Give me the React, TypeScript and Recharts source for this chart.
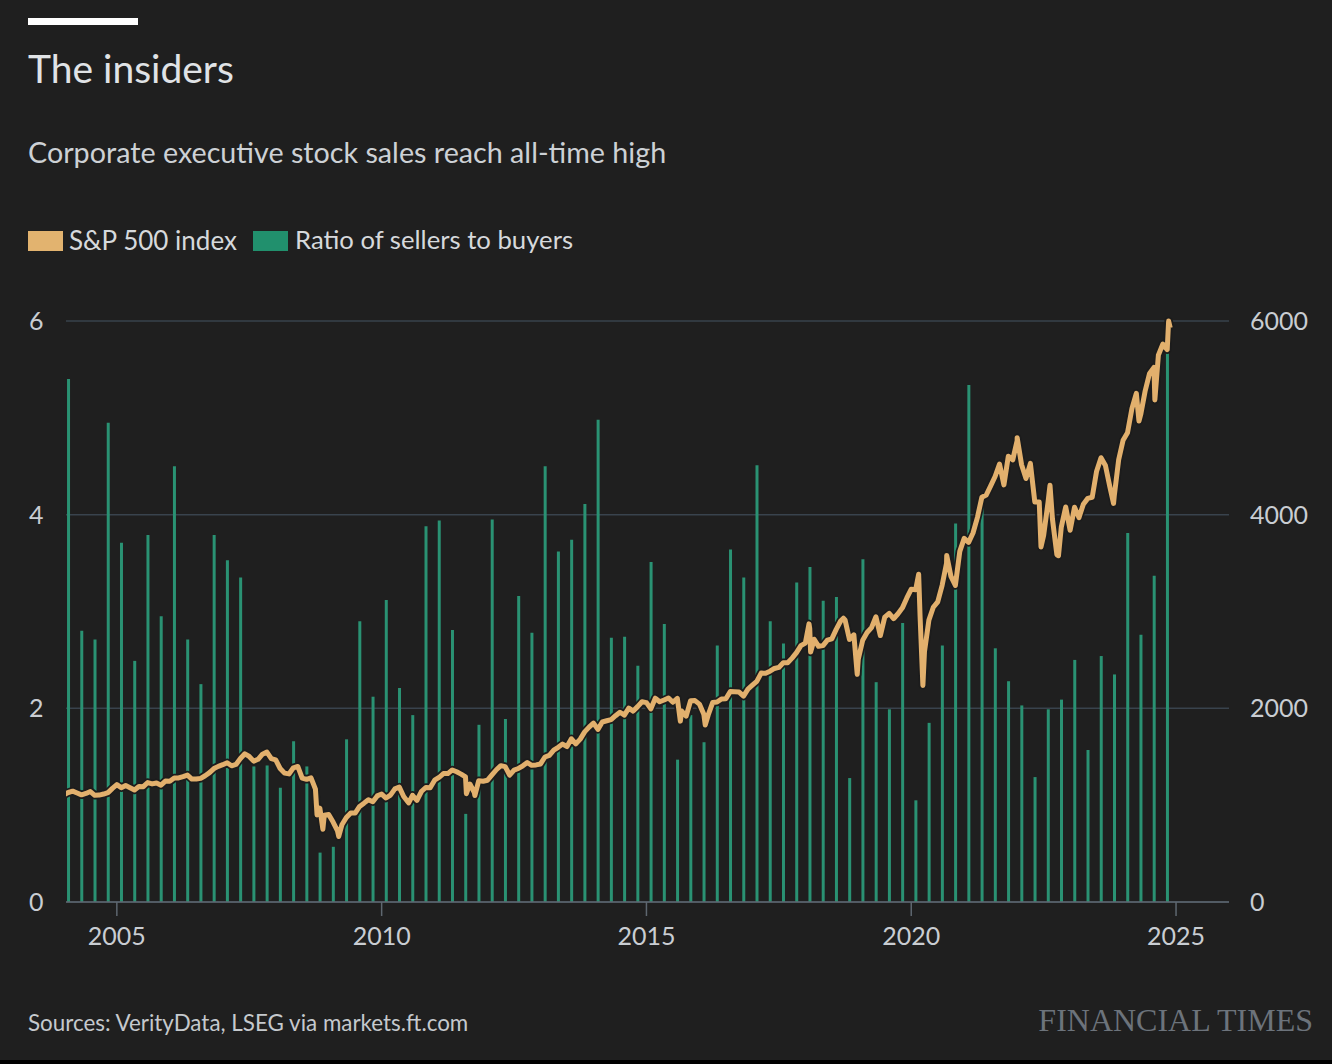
import React from "react"
import { ComposedChart, Bar, Line, XAxis, YAxis, CartesianGrid } from "recharts"

const yearTicks = [2005, 2010, 2015, 2020, 2025]
const ratioTicks = [0, 2, 4, 6]
const indexTicks = [0, 2000, 4000, 6000]

// Ratio of sellers to buyers, one bar per quarter, 2004 Q1 .. 2024 Q4
const sellerBuyerRatio = [
  5.4, 2.8, 2.71, 4.95, 3.71, 2.49, 3.79, 2.95, 4.5, 2.71, 2.25, 3.79,
  3.53, 3.35, 1.4, 1.41, 1.18, 1.66, 1.4, 0.51, 0.57, 1.68, 2.9, 2.12,
  3.12, 2.21, 1.93, 3.88, 3.94, 2.81, 0.91, 1.83, 3.95, 1.89, 3.16, 2.78,
  4.5, 3.62, 3.74, 4.11, 4.98, 2.73, 2.74, 2.44, 3.51, 2.87, 1.47, 1.93,
  1.65, 2.65, 3.64, 3.35, 4.51, 2.9, 2.67, 3.3, 3.46, 3.11, 3.15, 1.28,
  3.54, 2.27, 1.99, 2.88, 1.05, 1.85, 2.65, 3.91, 5.34, 4.1, 2.62, 2.28,
  2.03, 1.29, 1.99, 2.09, 2.5, 1.57, 2.54, 2.35, 3.81, 2.76, 3.37, 5.69,
]

// S&P 500 month-end closes, Jan 2004 .. Oct 2024
const spxMonthEnd = [
  1131, 1145, 1126, 1107, 1121, 1141, 1102, 1104, 1115, 1130, 1174, 1212,
  1181, 1204, 1181, 1157, 1192, 1191, 1234, 1220, 1229, 1207, 1249, 1248,
  1280, 1281, 1295, 1311, 1270, 1270, 1277, 1304, 1336, 1378, 1401, 1418,
  1438, 1407, 1421, 1482, 1531, 1503, 1455, 1474, 1527, 1549, 1481, 1468,
  1379, 1331, 1323, 1386, 1400, 1280, 1267, 1283, 1165, 969, 896, 903,
  826, 735, 798, 873, 919, 919, 987, 1021, 1057, 1036, 1096, 1115,
  1074, 1104, 1169, 1187, 1089, 1031, 1102, 1049, 1141, 1183, 1181, 1258,
  1286, 1327, 1326, 1364, 1345, 1321, 1292, 1219, 1131, 1253, 1247, 1258,
  1312, 1366, 1408, 1398, 1310, 1362, 1379, 1407, 1441, 1412, 1416, 1426,
  1498, 1515, 1569, 1598, 1631, 1606, 1686, 1633, 1682, 1757, 1806, 1848,
  1783, 1859, 1872, 1884, 1924, 1960, 1931, 2003, 1972, 2018, 2068, 2059,
  1995, 2105, 2068, 2086, 2107, 2063, 2104, 1972, 1920, 2079, 2080, 2044,
  1940, 1932, 2060, 2065, 2097, 2099, 2174, 2171, 2168, 2126, 2199, 2239,
  2279, 2364, 2363, 2384, 2412, 2423, 2470, 2472, 2519, 2575, 2648, 2674,
  2824, 2714, 2641, 2648, 2705, 2718, 2816, 2902, 2914, 2712, 2760, 2507,
  2704, 2784, 2834, 2946, 2752, 2942, 2980, 2926, 2977, 3038, 3141, 3231,
  3226, 2954, 2585, 2912, 3044, 3100, 3271, 3500, 3363, 3270, 3622, 3756,
  3714, 3811, 3973, 4181, 4204, 4298, 4395, 4523, 4308, 4605, 4567, 4766,
  4516, 4374, 4530, 4132, 4132, 3785, 4130, 3955, 3586, 3872, 4080, 3840,
  4077, 3970, 4109, 4169, 4180, 4450, 4589, 4508, 4288, 4194, 4568, 4770,
  4846, 5096, 5254, 5036, 5278, 5460, 5522, 5648, 5762, 5705,
]

// intra-month highs and lows that show in the line
const spxSwings = [
  [2004.0, 1108], [2008.78, 899], [2008.89, 752], [2009.19, 677],
  [2010.51, 1023], [2011.6, 1119], [2011.76, 1099], [2015.64, 1868],
  [2016.11, 1829], [2018.07, 2873], [2018.1, 2581], [2018.72, 2931],
  [2018.98, 2351], [2020.14, 3386], [2020.22, 2237], [2020.67, 3580],
  [2022.0, 4796], [2022.45, 3667], [2022.62, 4305], [2022.78, 3577],
  [2023.82, 4117], [2024.3, 4967], [2024.6, 5186], [2024.86, 6001],
  [2024.89, 5930],
]

const ratioData = sellerBuyerRatio.map((ratio, i) => ({ t: 2004 + i / 4 + 0.09, ratio }))
const spxData = [
  ...spxMonthEnd.map((spx, i) => ({ t: 2004 + (i + 1) / 12, spx })),
  ...spxSwings.map(([t, spx]) => ({ t, spx })),
].sort((a, b) => a.t - b.t)

const font = "Lato, 'Open Sans', sans-serif"
const labelColor = "#c9cdd2"
const domainX = [2004.04, 2026]

const LeftTick = ({ y, payload }: any) => (
  <text x={29} y={y} dy={9} fill={labelColor} fontSize={25} fontFamily={font}>
    {payload.value}
  </text>
)

const RightTick = ({ y, payload }: any) => (
  <text x={1250} y={y} dy={9} fill={labelColor} fontSize={25} fontFamily={font}>
    {payload.value}
  </text>
)

const YearTick = ({ x, y, payload }: any) => (
  <text x={x} y={y + 27} textAnchor="middle" fill={labelColor} fontSize={25} fontFamily={font}>
    {payload.value}
  </text>
)

export default function App() {
  return (
    <div
      style={{
        position: "absolute",
        left: 0,
        top: 0,
        width: 1332,
        height: 1064,
        background: "#1f1f1f",
        overflow: "hidden",
        fontFamily: font,
      }}
    >
      <div style={{ position: "absolute", left: 28, top: 18, width: 110, height: 7, background: "#ffffff" }} />
      <div style={{ position: "absolute", left: 28, top: 49, fontSize: 39, lineHeight: 1, color: "#e0e3e6" }}>
        The insiders
      </div>
      <div style={{ position: "absolute", left: 28, top: 138, fontSize: 28.7, lineHeight: 1, color: "#cdd1d5" }}>
        Corporate executive stock sales reach all-time high
      </div>

      <div style={{ position: "absolute", left: 28, top: 231, width: 35, height: 20, background: "#e2b36f" }} />
      <div style={{ position: "absolute", left: 69, top: 227, fontSize: 26, lineHeight: 1, color: "#d6d9dc" }}>
        S&amp;P 500 index
      </div>
      <div style={{ position: "absolute", left: 253, top: 231, width: 35, height: 20, background: "#21906d" }} />
      <div style={{ position: "absolute", left: 295, top: 227, fontSize: 25.7, lineHeight: 1, color: "#d6d9dc" }}>
        Ratio of sellers to buyers
      </div>

      <div style={{ position: "absolute", left: 0, top: 0 }}>
        <ComposedChart width={1332} height={980} data={ratioData} margin={{ top: 321, right: 0, bottom: 0, left: 0 }}>
          <XAxis
            xAxisId="bars"
            dataKey="t"
            type="number"
            domain={domainX}
            allowDataOverflow
            orientation="top"
            height={0}
            hide
          />
          <XAxis
            xAxisId="time"
            dataKey="t"
            type="number"
            domain={domainX}
            allowDataOverflow
            ticks={yearTicks}
            height={78}
            tickSize={14}
            axisLine={{ stroke: "#5e6770", strokeWidth: 1.5 }}
            tickLine={{ stroke: "#5e6770", strokeWidth: 1.5 }}
            tick={<YearTick />}
          />
          <YAxis
            yAxisId="ratio"
            domain={[0, 6]}
            ticks={ratioTicks}
            width={66}
            axisLine={false}
            tickLine={false}
            tick={<LeftTick />}
          />
          <YAxis
            yAxisId="spx"
            orientation="right"
            domain={[0, 6000]}
            ticks={indexTicks}
            width={103}
            axisLine={false}
            tickLine={false}
            tick={<RightTick />}
          />
          <CartesianGrid xAxisId="time" yAxisId="ratio" vertical={false} stroke="#39434d" strokeWidth={1.5} />
          <Bar
            xAxisId="bars"
            yAxisId="ratio"
            dataKey="ratio"
            barSize={3}
            fill="#2a9273"
            isAnimationActive={false}
          />
          <Line
            xAxisId="time"
            yAxisId="spx"
            data={spxData}
            dataKey="spx"
            stroke="#1c1c1c"
            strokeWidth={8.5}
            strokeLinejoin="round"
            dot={false}
            activeDot={false}
            isAnimationActive={false}
          />
          <Line
            xAxisId="time"
            yAxisId="spx"
            data={spxData}
            dataKey="spx"
            stroke="#e2b06d"
            strokeWidth={5}
            strokeLinejoin="round"
            dot={false}
            activeDot={false}
            isAnimationActive={false}
          />
        </ComposedChart>
      </div>

      <div style={{ position: "absolute", left: 28, top: 1012, fontSize: 22.4, lineHeight: 1, color: "#c5c9cd" }}>
        Sources: VerityData, LSEG via markets.ft.com
      </div>
      <div
        style={{
          position: "absolute",
          right: 19,
          top: 1004,
          fontSize: 32,
          lineHeight: 1,
          color: "#6c737b",
          fontFamily: "'Liberation Serif', 'DejaVu Serif', serif",
          letterSpacing: 0,
        }}
      >
        FINANCIAL TIMES
      </div>
      <div style={{ position: "absolute", left: 0, top: 1060, width: 1332, height: 4, background: "#000000" }} />
    </div>
  )
}
